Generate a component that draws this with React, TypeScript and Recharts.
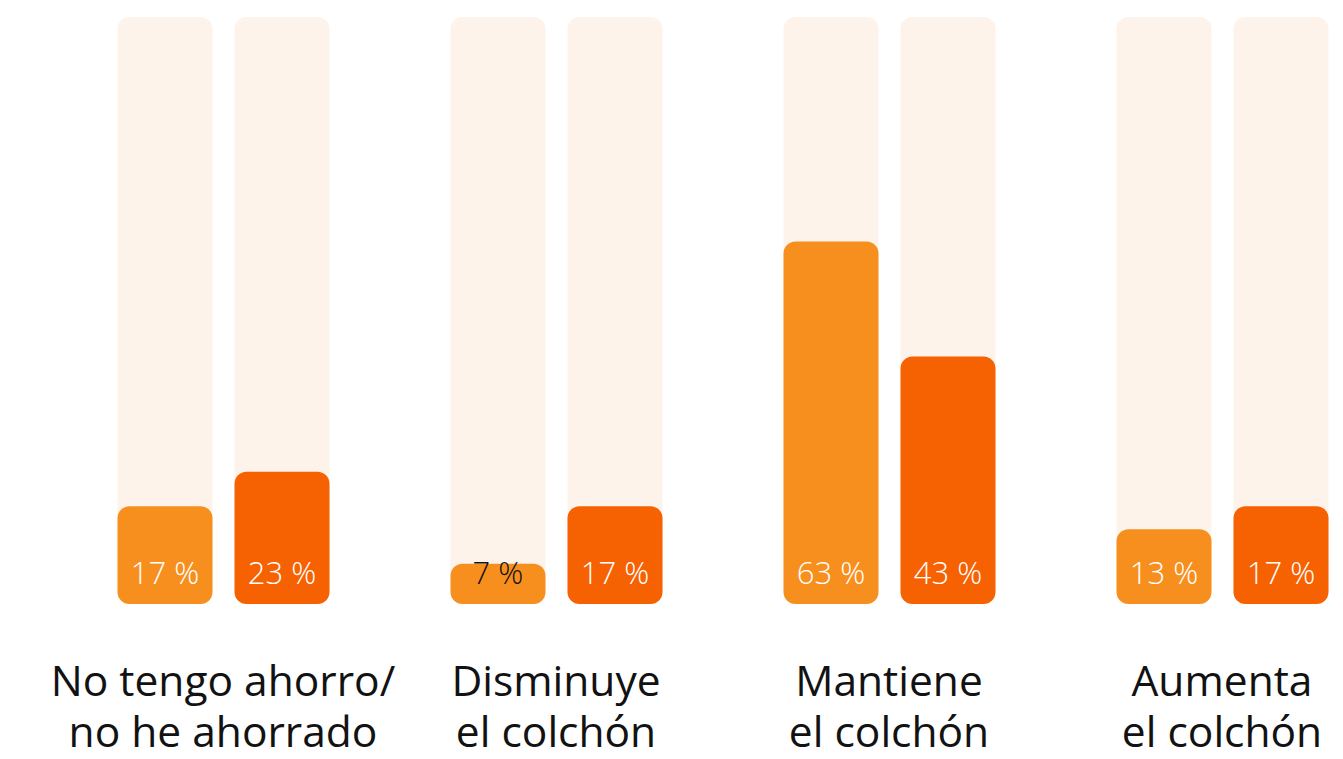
import React from "react"
import { BarChart, Bar, XAxis, YAxis, LabelList } from "recharts"

// categories (two lines each) and the two series
const categories = [
  ["No tengo ahorro/", "no he ahorrado"],
  ["Disminuye", "el colchón"],
  ["Mantiene", "el colchón"],
  ["Aumenta", "el colchón"],
]
const serieA = [17, 7, 63, 13]
const serieB = [23, 17, 43, 17]

const data = categories.map((c, i) => ({
  name: c.join(" "),
  a: serieA[i],
  b: serieB[i],
}))

const ORANGE = "#F78F1E"
const DARK_ORANGE = "#F66202"
const TRACK = "#FEF3EA"
const FONT = "'Open Sans', 'Noto Sans', sans-serif"

const renderValue = (props: any) => {
  const { x, y, width, height, value } = props
  const cx = x + width / 2
  const base = y + height - 20
  return (
    <text
      x={cx}
      y={base}
      textAnchor="middle"
      fontFamily={FONT}
      fontWeight={300}
      fontSize={31}
      fill={value < 10 ? "#121212" : "#ffffff"}
    >
      {`${value} %`}
    </text>
  )
}

const CategoryTick = (props: any) => {
  const { x, y, index } = props
  const lines = categories[index] || []
  return (
    <g>
      {lines.map((line, i) => (
        <text
          key={i}
          x={x}
          y={y + 84 + i * 51}
          textAnchor="middle"
          fontFamily={FONT}
          fontSize={42.5}
          fill="#121212"
        >
          {line}
        </text>
      ))}
    </g>
  )
}

export default function App() {
  return (
    <div
      style={{
        position: "fixed",
        left: 0,
        top: 0,
        width: 1343,
        height: 759,
        overflow: "hidden",
        background: "#fff",
      }}
    >
      <BarChart
        width={1400}
        height={759}
        data={data}
        margin={{ top: 17, right: 11.5, bottom: 0, left: 56.5 }}
        barSize={95}
        barGap={22}
      >
        <XAxis
          dataKey="name"
          axisLine={false}
          tickLine={false}
          height={155}
          interval={0}
          tick={<CategoryTick />}
        />
        <YAxis hide domain={[0, 102]} />
        <Bar
          dataKey="a"
          fill={ORANGE}
          radius={12}
          background={{ fill: TRACK, radius: 12 }}
          isAnimationActive={false}
        >
          <LabelList dataKey="a" content={renderValue} />
        </Bar>
        <Bar
          dataKey="b"
          fill={DARK_ORANGE}
          radius={12}
          background={{ fill: TRACK, radius: 12 }}
          isAnimationActive={false}
        >
          <LabelList dataKey="b" content={renderValue} />
        </Bar>
      </BarChart>
    </div>
  )
}
